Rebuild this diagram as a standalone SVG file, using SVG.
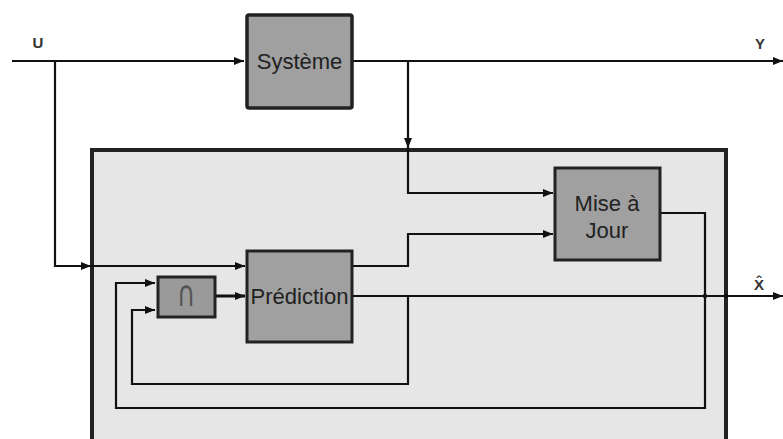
<svg xmlns="http://www.w3.org/2000/svg" width="783" height="439" viewBox="0 0 783 439">
<style>
.blk{fill:#a0a0a0;stroke:#222;stroke-width:3.5}
.w{fill:none;stroke:#111;stroke-width:2.2}
.t{font-family:"Liberation Sans",Arial,sans-serif;font-size:22px;fill:#222;text-anchor:middle}
.lb{font-family:"Liberation Sans",Arial,sans-serif;font-size:15px;font-weight:bold;fill:#333;text-anchor:middle}
</style>
<defs>
<marker id="a" viewBox="0 0 10 8" refX="10" refY="4" markerWidth="10" markerHeight="8" markerUnits="userSpaceOnUse" orient="auto">
<path d="M0,0 L10,4 L0,8 Z" fill="#111"/>
</marker>
</defs>
<rect width="783" height="439" fill="#fff"/>
<g id="observateur">
<rect x="92" y="150" width="634" height="300" fill="#e6e6e6" stroke="#222" stroke-width="4"/>
</g>
<g id="connectors">
<path class="w" d="M12,61 H244" marker-end="url(#a)"/>
<path class="w" d="M353,61 H783" marker-end="url(#a)"/>
<path class="w" d="M55,61 V266 H91" marker-end="url(#a)"/>
<path class="w" d="M91,266 H245" marker-end="url(#a)"/>
<path class="w" d="M408,61 V148" marker-end="url(#a)"/>
<path class="w" d="M408,148 V193 H553" marker-end="url(#a)"/>
<path class="w" d="M352,266 H408 V234 H553" marker-end="url(#a)"/>
<path class="w" d="M352,296 H783" marker-end="url(#a)"/>
<path class="w" d="M216,296 H245" marker-end="url(#a)" style="stroke-width:3"/>
<path class="w" d="M660,213 H705 V408 H116 V283 H155" marker-end="url(#a)"/>
<path class="w" d="M408,296 V384 H132 V310 H155" marker-end="url(#a)"/>
<circle cx="705" cy="296" r="2.2" fill="#111"/>
<circle cx="726" cy="296" r="2.2" fill="#111"/>
</g>
<g id="systeme">
<rect class="blk" x="247" y="15" width="105" height="93" rx="2"/>
<text class="t" x="299.5" y="69">Système</text>
</g>
<g id="prediction">
<rect class="blk" x="247" y="251" width="105" height="91" style="stroke-width:3"/>
<text class="t" x="299.5" y="304">Prédiction</text>
</g>
<g id="intersection">
<rect class="blk" x="158" y="277" width="57" height="40" style="stroke-width:3;fill:#9a9a9a"/>
<text transform="translate(186,306) scale(0.7,1)" style="font-family:'DejaVu Sans',sans-serif;font-size:36px;fill:#555;text-anchor:middle">∩</text>
</g>
<g id="miseajour">
<rect class="blk" x="555" y="168" width="105" height="92" style="stroke-width:3"/>
<text class="t" x="607" y="211">Mise à</text>
<text class="t" x="607" y="238">Jour</text>
</g>
<g id="labels">
<text class="lb" x="38" y="48">U</text>
<text class="lb" x="760" y="49">Y</text>
<text class="lb" x="759" y="290">X̂</text>
</g>
</svg>
